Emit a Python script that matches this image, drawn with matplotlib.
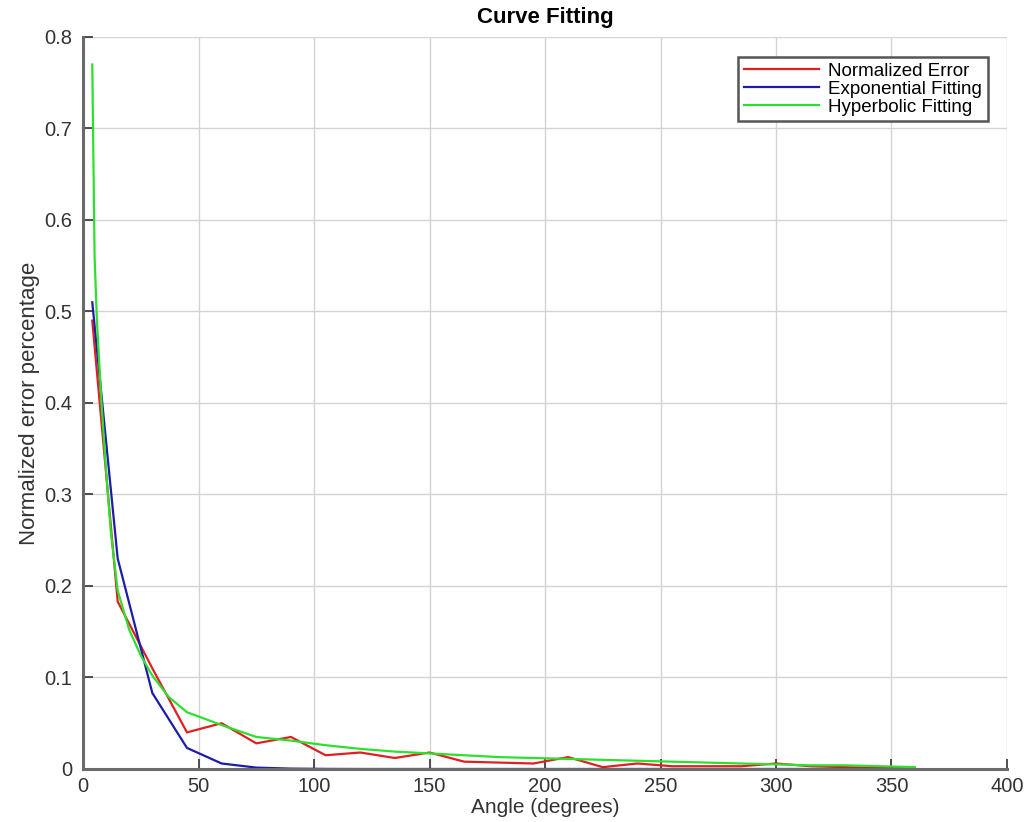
import matplotlib
matplotlib.use("Agg")
import matplotlib.pyplot as plt

plt.rcParams['font.family'] = ['Liberation Sans', 'DejaVu Sans']

# sample angles (degrees) for the measured error and the exponential fit
angles = [4, 15, 30, 45, 60, 75, 90, 105, 120, 135, 150, 165, 180, 195, 210,
          225, 240, 255, 270, 285, 300, 315, 330, 345, 360]

norm_error = [0.49, 0.183, 0.11, 0.040, 0.050, 0.028, 0.035, 0.015, 0.018, 0.012,
              0.018, 0.008, 0.007, 0.006, 0.013, 0.002, 0.006, 0.003, 0.003, 0.003,
              0.006, 0.003, 0.002, 0.001, 0.001]

exp_fit = [0.51, 0.23, 0.083, 0.023, 0.006, 0.0015, 0.0004, 0.0001, 0.0, 0.0,
           0.0, 0.0, 0.0, 0.0, 0.0, 0.0, 0.0, 0.0, 0.0, 0.0,
           0.0, 0.0, 0.0, 0.0, 0.0]

# hyperbolic fit is evaluated on a denser grid near the origin
hyp_angles = [4, 5, 6, 8, 10, 12, 15, 20, 25, 30, 37, 45, 60, 75, 90, 105, 120,
              135, 150, 165, 180, 195, 210, 225, 240, 255, 270, 285, 300, 315,
              330, 345, 360]
hyp_fit = [0.77, 0.56, 0.49, 0.40, 0.325, 0.26, 0.195, 0.152, 0.124, 0.102,
           0.079, 0.062, 0.048, 0.035, 0.031, 0.026, 0.022, 0.019, 0.017, 0.015,
           0.013, 0.012, 0.011, 0.010, 0.009, 0.008, 0.007, 0.006, 0.005, 0.004,
           0.004, 0.003, 0.002]

x_ticks = [0, 50, 100, 150, 200, 250, 300, 350, 400]
y_ticks = [0, 0.1, 0.2, 0.3, 0.4, 0.5, 0.6, 0.7, 0.8]

fig = plt.figure(figsize=(10.29, 8.22), dpi=100)
ax = fig.add_axes([0.0807, 0.0645, 0.8979, 0.8905])

ax.plot(angles, norm_error, color='#e02020', lw=1.6, label='Normalized Error')
ax.plot(angles, exp_fit, color='#1c1ca8', lw=1.6, label='Exponential Fitting')
ax.plot(hyp_angles, hyp_fit, color='#2ee02e', lw=1.6, label='Hyperbolic Fitting')

ax.set_xlim(0, 400)
ax.set_ylim(0, 0.8)
ax.set_xticks(x_ticks)
ax.set_yticks(y_ticks)
ax.set_xticklabels([str(t) for t in x_ticks])
ax.set_yticklabels(['0'] + [f'{t:g}' for t in y_ticks[1:]])
ax.tick_params(direction='in', length=7, width=1.2, labelsize=14.5,
               colors='#333333')
ax.tick_params(axis='y', pad=8)
ax.tick_params(axis='x', pad=6)
ax.grid(True, color='#d4d4d4', lw=1.0)
ax.set_axisbelow(True)

for side in ['top', 'right']:
    ax.spines[side].set_visible(False)
for side in ['left', 'bottom']:
    ax.spines[side].set_color('#6a6a6a')
    ax.spines[side].set_linewidth(2.2)

ax.set_xlabel('Angle (degrees)', fontsize=15, labelpad=1, color='#333333')
ax.set_ylabel('Normalized error percentage', fontsize=16, labelpad=3, color='#333333')
ax.set_title('Curve Fitting', fontsize=16, fontweight='bold', pad=10)

leg = ax.legend(loc='upper right', bbox_to_anchor=(0.9794, 0.9727), fontsize=13.5,
                fancybox=False, framealpha=1, edgecolor='#555555',
                borderpad=0.3, labelspacing=0.05, handlelength=4.0,
                handletextpad=0.5, borderaxespad=0)
leg.get_frame().set_linewidth(1.8)

fig.savefig('out.png', dpi=100)
